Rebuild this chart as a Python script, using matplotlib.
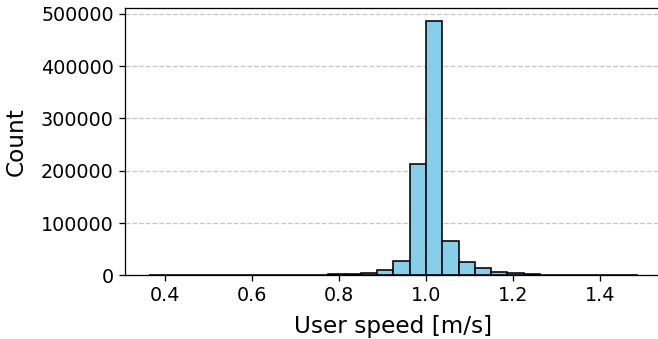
import numpy as np
from matplotlib import pyplot as plt

# histogram of user speeds, 30 bins (one edge lands on 1.0)
bin_width = 0.0374
n_bins = 30
first_edge = 1.0 - 17 * bin_width
counts = [60, 40, 30, 30, 40, 60, 100, 150, 250, 500,
          900, 1600, 2800, 5200, 10000, 27500, 212800, 486800, 65600, 24800,
          13800, 7200, 3600, 1800, 900, 450, 250, 120, 60, 30]

edges = first_edge + bin_width * np.arange(n_bins + 1)

dpi = 115
fig = plt.figure(figsize=(658 / dpi, 339 / dpi), dpi=dpi)
ax = fig.add_axes([0.19, 0.188, 0.816, 0.788])

ax.bar(edges[:-1], counts, width=np.diff(edges), align='edge',
       color='skyblue', edgecolor='black', linewidth=1.0)

ax.set_xlabel('User speed [m/s]', fontsize=14.5, labelpad=6)
ax.set_ylabel('Count', fontsize=14.5, labelpad=8)
ax.tick_params(labelsize=12)
ax.grid(axis='y', linestyle='--', alpha=0.7)
ax.set_axisbelow(True)

fig.savefig('out.png', dpi=dpi)
